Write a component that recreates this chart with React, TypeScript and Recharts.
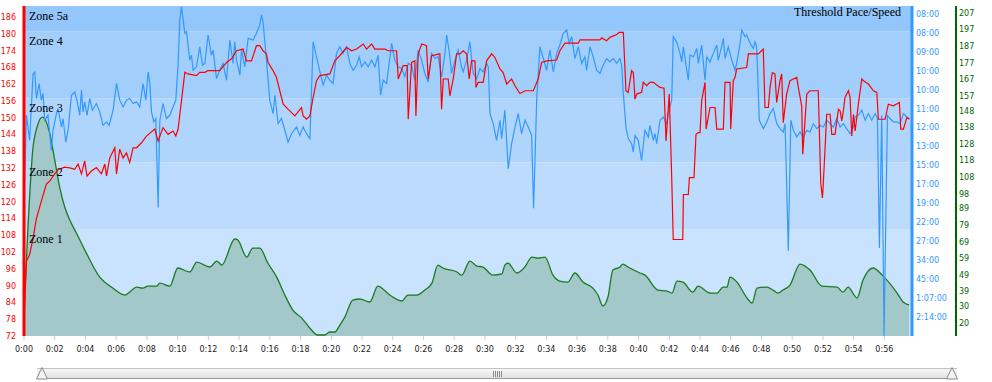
import { ComposedChart, Line, Area, XAxis, YAxis, ReferenceArea } from 'recharts'

// x axis: minutes into the activity
const xTicks = [0, 2, 4, 6, 8, 10, 12, 14, 16, 18, 20, 22, 24, 26, 28, 30, 32, 34, 36, 38, 40, 42, 44, 46, 48, 50, 52, 54, 56]

// left axis: heart rate
const hrTicks = [72, 78, 84, 90, 96, 102, 108, 114, 120, 126, 132, 138, 144, 150, 156, 162, 168, 174, 180, 186]

// blue axis: speed steps, shown as pace
const paceTicks = [1, 2, 3, 4, 5, 6, 7, 8, 9, 10, 11, 12, 13, 14, 15, 16, 17]
const paceLabels = ['2:14:00', '1:07:00', '45:00', '34:00', '27:00', '22:00', '19:00', '17:00', '15:00', '13:00', '12:00', '11:00', '10:00', '10:00', '09:00', '08:00', '08:00']

// green axis: elevation
const elevTicks = [20, 30, 39, 49, 59, 69, 79, 89, 98, 108, 118, 128, 138, 148, 157, 167, 177, 187, 197, 207]

// heart rate zones (bpm)
const zoneNames = ['Zone 1', 'Zone 2', 'Zone 3', 'Zone 4', 'Zone 5a']
const zoneBounds = [72, 110, 134, 157, 181, 190]
const zoneColors = ['#c9e3fe', '#bddcfd', '#b0d5fd', '#a2cefc', '#93c6fa']

const hrTime = [0, 0.16, 0.37, 0.59, 0.81, 1.13, 1.46, 1.67, 2.0, 2.19,
  2.32, 2.65, 2.98, 3.3, 3.52, 3.74, 3.95, 4.1, 4.39, 4.71,
  5.04, 5.26, 5.37, 5.58, 5.91, 6.02, 6.23, 6.45, 6.67, 6.88,
  7.1, 7.32, 7.65, 7.97, 8.51, 8.73, 9.05, 9.38, 9.7, 9.88,
  10.03, 10.25, 10.47, 10.68, 11.23, 11.44, 11.77, 11.98, 12.74, 13.18,
  13.51, 13.83, 14.26, 14.48, 14.81, 15.13, 15.35, 15.56, 15.78, 15.89,
  16.21, 16.43, 16.65, 16.87, 17.3, 17.63, 18.06, 18.17, 18.39, 18.61,
  18.82, 19.04, 19.26, 19.91, 20.23, 20.56, 21.0, 21.32, 21.65, 22.08,
  22.3, 22.62, 22.84, 23.49, 23.7, 24.25, 24.36, 24.68, 24.94, 25.01,
  25.23, 25.44, 25.51, 25.66, 25.88, 26.2, 26.31, 26.53, 27.07, 27.18,
  27.29, 27.61, 27.72, 27.94, 28.16, 28.37, 28.59, 28.81, 28.98, 29.13,
  29.35, 29.42, 29.56, 29.89, 30.11, 30.44, 30.65, 30.98, 31.19, 31.42,
  31.74, 31.96, 32.28, 32.61, 33.15, 33.47, 33.69, 34.02, 34.67, 34.88,
  35.21, 36.08, 36.19, 37.49, 37.6, 37.92, 38.14, 38.58, 38.75, 39.01,
  39.18, 39.33, 39.55, 39.66, 39.77, 39.88, 40.2, 40.31, 40.53, 40.74,
  40.96, 41.4, 41.66, 41.79, 42.0, 42.16, 42.26, 42.88, 42.92, 43.24,
  43.31, 43.61, 43.74, 43.89, 44.0, 44.11, 44.33, 44.4, 44.65, 44.98,
  45.09, 45.52, 45.63, 45.96, 46.0, 46.17, 46.28, 46.39, 47.04, 47.15,
  47.8, 48.12, 48.23, 48.45, 48.56, 48.71, 48.88, 48.99, 49.21, 49.32,
  49.42, 49.64, 49.86, 50.3, 50.4, 50.62, 50.69, 50.95, 51.16, 51.7,
  51.86, 51.97, 52.03, 52.25, 52.47, 52.58, 52.79, 53.01, 53.12, 53.23,
  53.33, 53.44, 53.66, 53.77, 53.88, 53.99, 54.1, 54.31, 54.53, 54.64,
  54.96, 55.29, 55.51, 55.61, 56.05, 56.26, 56.59, 56.98, 57.07, 57.24,
  57.46, 57.63]

const hrBpm = [78.2, 98.7, 101.2, 106.9, 114.1, 120.2, 126.3, 127.4, 130.0, 131.3,
  131.7, 132.4, 132.1, 131.6, 133.5, 130.0, 134.6, 129.2, 131.0, 132.2,
  130.0, 133.5, 129.2, 135.7, 139.3, 129.9, 138.8, 135.7, 137.5, 134.0,
  139.3, 139.3, 141.1, 143.5, 146.0, 141.7, 146.5, 144.1, 145.3, 143.5,
  146.0, 156.1, 166.3, 165.7, 165.1, 166.3, 166.3, 166.9, 166.9, 169.8,
  171.1, 174.0, 174.6, 170.4, 170.4, 175.8, 175.8, 174.0, 172.9, 169.8,
  166.9, 164.5, 159.7, 154.9, 152.5, 150.7, 153.7, 150.7, 149.5, 150.7,
  157.3, 163.3, 165.1, 165.7, 170.4, 172.3, 175.2, 174.0, 174.6, 176.4,
  174.6, 176.4, 174.6, 174.6, 174.0, 174.0, 163.9, 168.7, 168.7, 149.5,
  169.8, 170.4, 150.7, 172.9, 176.4, 175.8, 163.9, 172.2, 172.9, 153.1,
  163.9, 163.9, 157.9, 163.9, 172.9, 172.9, 174.0, 172.9, 163.9, 170.4,
  170.4, 160.9, 162.7, 162.7, 170.4, 172.9, 171.6, 167.5, 166.2, 162.1,
  163.9, 161.5, 158.7, 159.7, 159.7, 163.9, 169.8, 170.4, 170.7, 174.0,
  176.7, 176.7, 177.9, 177.9, 178.6, 177.6, 178.8, 179.8, 180.6, 180.6,
  159.7, 159.1, 166.9, 166.2, 156.7, 158.5, 159.1, 162.7, 161.5, 162.7,
  162.7, 160.9, 160.6, 141.7, 158.5, 128.6, 106.5, 106.5, 122.6, 122.6,
  128.6, 128.6, 144.1, 144.7, 144.7, 156.1, 162.7, 146.0, 153.7, 153.7,
  146.0, 146.0, 162.7, 162.7, 146.0, 163.3, 164.5, 167.5, 168.0, 172.9,
  172.9, 174.6, 153.7, 153.7, 160.9, 166.2, 165.7, 155.5, 163.3, 165.7,
  148.3, 158.5, 163.3, 164.5, 160.9, 154.3, 137.0, 158.5, 159.7, 159.7,
  126.8, 121.4, 126.8, 151.3, 151.3, 144.1, 144.1, 153.1, 152.5, 148.9,
  152.5, 157.3, 159.7, 157.3, 143.5, 151.3, 145.3, 154.9, 163.9, 163.3,
  162.1, 159.7, 159.1, 149.5, 149.5, 154.9, 154.3, 155.5, 146.0, 146.0,
  150.1, 149.5]

const paceTime = [0, 0.16, 0.37, 0.59, 0.7, 0.81, 0.98, 1.13, 1.24, 1.35,
  1.56, 1.78, 1.89, 2.11, 2.21, 2.44, 2.54, 2.72, 2.87, 3.09,
  3.3, 3.45, 3.63, 3.74, 3.84, 3.95, 4.1, 4.28, 4.45, 4.71,
  4.93, 5.14, 5.37, 5.54, 5.8, 6.02, 6.23, 6.45, 6.67, 6.88,
  7.1, 7.32, 7.53, 7.75, 7.93, 8.08, 8.19, 8.3, 8.45, 8.58,
  8.73, 8.84, 9.05, 9.27, 9.49, 9.7, 9.88, 10.03, 10.14, 10.25,
  10.47, 10.58, 10.79, 10.9, 11.01, 11.23, 11.44, 11.62, 11.77, 11.98,
  12.2, 12.31, 12.53, 12.74, 12.96, 13.18, 13.4, 13.61, 13.72, 13.83,
  14.05, 14.16, 14.37, 14.59, 14.91, 15.13, 15.35, 15.46, 15.56, 15.78,
  16.0, 16.21, 16.33, 16.54, 16.76, 16.98, 17.19, 17.41, 17.74, 17.95,
  18.17, 18.39, 18.61, 18.82, 19.04, 19.26, 19.47, 19.69, 19.91, 20.12,
  20.34, 20.56, 20.77, 20.99, 21.21, 21.42, 21.65, 21.82, 21.97, 22.19,
  22.4, 22.62, 22.84, 23.05, 23.21, 23.38, 23.6, 23.93, 24.14, 24.36,
  24.58, 24.79, 25.01, 25.23, 25.44, 25.66, 25.88, 26.09, 26.31, 26.53,
  26.75, 26.96, 27.18, 27.4, 27.51, 27.68, 27.83, 28.05, 28.26, 28.48,
  28.59, 28.81, 29.02, 29.24, 29.46, 29.68, 29.89, 30.11, 30.22, 30.33,
  30.54, 30.76, 30.98, 31.09, 31.3, 31.52, 31.74, 31.96, 32.17, 32.39,
  32.61, 32.82, 33.04, 33.17, 33.37, 33.58, 33.8, 34.02, 34.23, 34.45,
  34.67, 34.88, 35.1, 35.32, 35.49, 35.65, 35.86, 36.08, 36.3, 36.51,
  36.62, 36.84, 37.05, 37.27, 37.49, 37.7, 37.93, 38.14, 38.36, 38.58,
  38.79, 38.9, 39.01, 39.18, 39.33, 39.55, 39.66, 39.77, 39.98, 40.2,
  40.42, 40.64, 40.74, 40.96, 41.07, 41.18, 41.4, 41.61, 41.83, 41.94,
  42.16, 42.26, 42.48, 42.7, 42.81, 42.92, 43.14, 43.24, 43.35, 43.57,
  43.79, 43.89, 44.11, 44.33, 44.44, 44.65, 44.87, 45.09, 45.19, 45.41,
  45.52, 45.63, 45.84, 46.07, 46.28, 46.39, 46.61, 46.72, 46.93, 47.04,
  47.26, 47.47, 47.58, 47.69, 47.86, 48.12, 48.35, 48.56, 48.77, 49.0,
  49.21, 49.42, 49.54, 49.75, 49.91, 50.08, 50.3, 50.51, 50.73, 50.95,
  51.16, 51.38, 51.6, 51.82, 52.03, 52.25, 52.47, 52.68, 52.9, 53.12,
  53.33, 53.55, 53.77, 53.99, 54.1, 54.31, 54.53, 54.75, 54.96, 55.18,
  55.4, 55.55, 55.68, 55.83, 55.98, 56.2, 56.37, 56.59, 56.81, 57.03,
  57.24, 57.46, 57.63]

const paceSpeed = [6.97, 11.65, 10.33, 13.86, 13.94, 12.54, 13.33, 12.45, 12.8, 11.39,
  11.65, 9.8, 10.86, 11.74, 12.01, 11.03, 11.48, 10.24, 10.86, 12.71,
  12.88, 12.45, 11.65, 12.97, 11.83, 12.36, 11.65, 12.54, 11.92, 12.27,
  11.83, 11.12, 11.3, 11.12, 11.92, 13.33, 12.45, 12.09, 12.45, 12.54,
  12.27, 12.36, 12.09, 13.33, 12.45, 13.94, 13.33, 11.83, 11.3, 11.48,
  6.79, 11.39, 12.27, 11.48, 11.65, 12.09, 12.45, 14.3, 16.68, 17.39,
  15.98, 16.06, 14.56, 14.83, 14.03, 14.21, 15.27, 14.3, 14.39, 15.89,
  14.83, 15.09, 13.59, 14.03, 14.39, 13.5, 15.62, 14.39, 15.53, 14.56,
  13.77, 15.09, 14.21, 15.71, 15.62, 15.98, 16.42, 16.95, 16.59, 14.56,
  12.45, 11.74, 12.71, 11.21, 11.48, 10.86, 10.24, 10.68, 11.03, 10.59,
  11.03, 10.68, 10.42, 15.53, 14.74, 13.94, 13.24, 13.77, 13.5, 13.33,
  14.92, 15.27, 14.92, 15.27, 14.39, 14.03, 14.3, 14.74, 14.21, 14.47,
  14.21, 14.56, 14.21, 14.83, 12.71, 13.5, 13.33, 15.45, 14.56, 14.21,
  14.12, 13.68, 14.39, 14.3, 13.5, 15.09, 14.56, 13.86, 13.41, 14.92,
  14.65, 14.74, 13.68, 14.92, 15.89, 15.0, 13.86, 14.56, 15.09, 14.21,
  13.94, 14.56, 15.53, 13.86, 13.59, 14.12, 13.94, 14.39, 14.21, 11.74,
  11.21, 10.33, 11.39, 10.42, 11.92, 8.83, 10.15, 11.03, 11.74, 10.68,
  11.39, 11.03, 10.59, 6.74, 12.45, 15.27, 14.65, 14.03, 15.09, 13.94,
  14.92, 15.36, 15.98, 16.15, 15.45, 15.8, 14.65, 15.27, 14.39, 14.74,
  14.03, 15.27, 14.74, 14.03, 13.86, 14.3, 14.65, 14.47, 14.65, 14.39,
  14.65, 14.3, 12.8, 11.03, 10.42, 10.15, 9.71, 10.59, 10.33, 9.27,
  10.86, 10.5, 11.12, 10.33, 10.68, 10.15, 11.39, 11.56, 11.21, 11.74,
  12.45, 15.8, 15.53, 14.92, 14.47, 15.27, 14.03, 13.5, 14.83, 14.74,
  15.18, 14.39, 15.36, 13.5, 14.74, 14.47, 14.92, 15.36, 14.56, 15.27,
  15.71, 14.65, 15.27, 14.56, 14.03, 14.39, 15.45, 16.15, 15.8, 15.89,
  15.45, 15.18, 15.53, 15.27, 11.39, 10.95, 11.3, 11.74, 12.01, 11.21,
  10.95, 10.77, 11.21, 4.5, 11.39, 10.86, 10.5, 10.77, 10.5, 10.86,
  10.77, 11.21, 10.95, 11.12, 11.03, 11.39, 11.21, 11.03, 11.48, 11.03,
  11.21, 10.95, 10.68, 11.03, 11.56, 11.65, 11.92, 11.39, 11.74, 11.39,
  11.74, 11.48, 4.64, 11.65, 0, 11.65, 11.48, 11.3, 11.3, 11.21,
  11.74, 11.56, 11.48]

const elevTime = [0, 0.24, 0.57, 0.85, 1.2, 1.67, 2.0, 2.32, 2.65, 2.98,
  3.41, 4.06, 4.93, 5.78, 6.56, 6.88, 7.32, 7.73, 8.06, 8.64,
  8.84, 9.49, 10.01, 10.79, 11.25, 12.09, 12.55, 12.87, 13.72, 13.92,
  14.5, 14.89, 15.35, 15.87, 16.45, 16.98, 17.5, 18.08, 18.6, 19.12,
  19.58, 19.9, 20.23, 20.56, 20.88, 21.4, 21.86, 22.51, 23.03, 23.81,
  24.59, 24.98, 25.57, 26.09, 26.55, 26.94, 27.26, 28.18, 28.5, 29.02,
  29.48, 29.87, 30.52, 31.1, 31.3, 31.5, 32.08, 32.6, 33.06, 33.45,
  33.91, 34.43, 34.88, 35.4, 35.86, 36.38, 37.03, 37.36, 37.68, 38.01,
  38.33, 38.79, 38.98, 39.31, 40.09, 40.42, 41.26, 41.85, 42.18, 42.5,
  42.89, 43.54, 43.87, 44.65, 45.11, 45.5, 45.76, 45.95, 46.41, 47.06,
  47.39, 47.71, 48.36, 48.75, 49.08, 49.4, 49.86, 50.51, 51.16, 51.94,
  52.92, 53.31, 53.64, 54.22, 54.61, 55.26, 55.92, 56.83, 57.22, 57.61]

const elevValue = [26.0, 74.3, 124.3, 138.2, 144.2, 134.6, 118.3, 102.0, 90.0, 82.1,
  74.3, 62.2, 47.7, 41.1, 36.9, 38.7, 41.7, 41.1, 42.3, 42.3,
  44.1, 42.3, 53.2, 50.8, 56.8, 53.8, 57.4, 55.0, 70.7, 70.1,
  59.8, 65.2, 65.2, 56.2, 47.7, 36.9, 27.8, 23.0, 17.0, 12.8,
  12.8, 14.6, 14.6, 18.8, 23.6, 33.9, 34.5, 32.7, 42.3, 36.9,
  33.3, 36.9, 36.9, 39.9, 44.1, 55.0, 53.2, 50.8, 48.9, 57.4,
  54.4, 53.8, 48.9, 49.6, 55.0, 56.2, 50.2, 53.8, 59.8, 59.2,
  59.8, 48.9, 45.3, 44.7, 50.2, 44.7, 41.1, 36.9, 30.3, 35.7,
  52.0, 53.8, 55.6, 53.8, 50.2, 48.9, 39.9, 39.3, 38.1, 45.3,
  44.7, 38.7, 42.3, 38.1, 38.1, 41.7, 41.7, 47.7, 44.7, 35.1,
  32.1, 41.1, 41.7, 39.9, 38.1, 39.9, 42.9, 55.6, 52.0, 42.3,
  41.7, 38.7, 41.7, 35.1, 45.9, 53.2, 48.3, 38.1, 32.7, 30.9]

const hrData = hrTime.map((t, i) => ({ t, hr: hrBpm[i] }))
const paceData = paceTime.map((t, i) => ({ t, speed: paceSpeed[i] }))
const elevData = elevTime.map((t, i) => ({ t, elev: elevValue[i] }))

const axisFont = { fontSize: 8, fontFamily: 'DejaVu Sans, Verdana, sans-serif' }
const zoneFont = 'Liberation Serif, Times New Roman, serif'

function fmtMinutes(v: number) {
  return `0:${String(v).padStart(2, '0')}`
}

function Scrollbar() {
  const handle = (left: number) => (
    <svg style={{ position: 'absolute', left, top: 367 }} width={12} height={13}>
      <path d="M6 0.5 L11.5 12 L0.5 12 Z" fill="#f4f4f4" stroke="#888" strokeWidth={1} />
    </svg>
  )
  return (
    <>
      <div
        style={{
          position: 'absolute', left: 37, top: 368, width: 920, height: 9,
          background: 'linear-gradient(#f6f6f6, #e2e2e2)',
          borderTop: '1px solid #c4c4c4', borderBottom: '1px solid #9a9a9a',
        }}
      />
      <div style={{ position: 'absolute', left: 493, top: 371, display: 'flex', gap: 1 }}>
        {[0, 1, 2, 3, 4].map((i) => (
          <div key={i} style={{ width: 1, height: 6, background: '#8a8a8a' }} />
        ))}
      </div>
      {handle(36)}
      {handle(946)}
    </>
  )
}

export default function App() {
  return (
    <div style={{ position: 'absolute', left: 0, top: 0, width: 992, height: 382, background: '#fff' }}>
      <ComposedChart width={992} height={362} margin={{ top: 6, right: 8, bottom: 0, left: 0 }}>
        <XAxis
          type="number"
          dataKey="t"
          domain={[0, 57.8]}
          ticks={xTicks}
          allowDataOverflow
          height={26}
          axisLine={false}
          tickLine={{ stroke: '#c8cdd4' }}
          tickSize={4}
          tickMargin={6}
          tickFormatter={fmtMinutes}
          tick={{ ...axisFont, fill: '#222' }}
        />
        <YAxis
          yAxisId="hr"
          orientation="left"
          type="number"
          domain={[72, 190]}
          ticks={hrTicks}
          allowDataOverflow
          width={24}
          axisLine={{ stroke: '#ff0000', strokeWidth: 3 }}
          tickLine={false}
          tick={{ ...axisFont, fill: '#ff0000' }}
        />
        <YAxis
          yAxisId="blue"
          orientation="right"
          type="number"
          domain={[0, 17.42]}
          ticks={paceTicks}
          allowDataOverflow
          width={44}
          axisLine={{ stroke: '#3399ff', strokeWidth: 3 }}
          tickLine={false}
          tickSize={2}
          tickMargin={2}
          tickFormatter={(v: number) => paceLabels[v - 1]}
          tick={{ ...axisFont, fill: '#3399ff' }}
        />
        <YAxis
          yAxisId="green"
          orientation="right"
          type="number"
          domain={[12.2, 211.2]}
          ticks={elevTicks}
          allowDataOverflow
          width={28}
          axisLine={{ stroke: '#006600', strokeWidth: 2 }}
          tickLine={false}
          tickSize={1}
          tickMargin={2}
          tick={{ ...axisFont, fill: '#006600' }}
        />
        {zoneNames.map((name, i) => (
          <ReferenceArea
            key={name}
            yAxisId="hr"
            y1={zoneBounds[i]}
            y2={zoneBounds[i + 1]}
            fill={zoneColors[i]}
            fillOpacity={1}
            stroke="none"
            label={{ value: name, position: 'insideTopLeft', offset: 5, fill: '#000', fontSize: 12, fontFamily: zoneFont }}
          />
        ))}
        <Area
          yAxisId="green"
          data={elevData}
          dataKey="elev"
          type="monotone"
          stroke="#1d7a1d"
          strokeWidth={1.3}
          fill="#a2c8c9"
          fillOpacity={1}
          dot={false}
          activeDot={false}
          isAnimationActive={false}
        />
        <Line
          yAxisId="blue"
          data={paceData}
          dataKey="speed"
          type="linear"
          stroke="#3399ff"
          strokeWidth={1.2}
          dot={false}
          activeDot={false}
          isAnimationActive={false}
        />
        <Line
          yAxisId="hr"
          data={hrData}
          dataKey="hr"
          type="linear"
          stroke="#ff0000"
          strokeWidth={1.2}
          dot={false}
          activeDot={false}
          isAnimationActive={false}
        />
      </ComposedChart>
      <div style={{ position: 'absolute', left: 794, top: 5, fontFamily: zoneFont, fontSize: 12, lineHeight: '14px', color: '#000' }}>
        Threshold Pace/Speed
      </div>
      <Scrollbar />
    </div>
  )
}
